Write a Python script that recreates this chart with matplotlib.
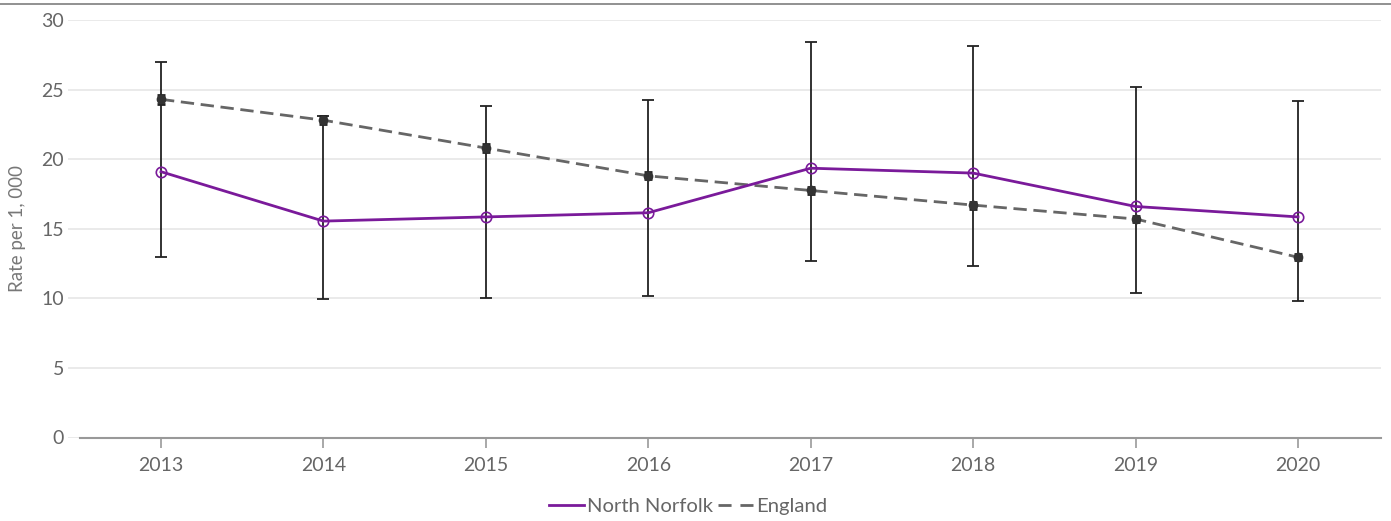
import matplotlib.pyplot as plt
from matplotlib.lines import Line2D

# data
years = [2013, 2014, 2015, 2016, 2017, 2018, 2019, 2020]
north_norfolk = [19.1, 15.55, 15.85, 16.15, 19.35, 19.0, 16.6, 15.85]
nn_lower = [13.0, 9.95, 10.0, 10.2, 12.65, 12.3, 10.4, 9.8]
nn_upper = [27.0, 23.1, 23.8, 24.25, 28.4, 28.1, 25.2, 24.2]
england = [24.3, 22.8, 20.8, 18.8, 17.75, 16.7, 15.7, 12.95]
eng_lower = [24.0, 22.5, 20.5, 18.55, 17.5, 16.45, 15.45, 12.75]
eng_upper = [24.6, 23.1, 21.1, 19.05, 18.0, 16.95, 15.95, 13.2]
y_ticks = [0, 5, 10, 15, 20, 25, 30]

plt.rcParams['font.family'] = ['Lato', 'DejaVu Sans']

fig = plt.figure(figsize=(13.91, 5.21), dpi=100)
ax = fig.add_axes([68 / 1391, 1 - 437.5 / 521, (1381 - 68) / 1391, 417.5 / 521])

purple = '#7a1a9a'
grey_txt = '#666666'

# north norfolk confidence intervals
nn_err = [[v - lo for v, lo in zip(north_norfolk, nn_lower)],
          [hi - v for v, hi in zip(north_norfolk, nn_upper)]]
ax.errorbar(years, north_norfolk, yerr=nn_err, fmt='none', ecolor='#222222',
            elinewidth=1.3, capsize=4, capthick=1.3, zorder=3)

eng_err = [[v - lo for v, lo in zip(england, eng_lower)],
           [hi - v for v, hi in zip(england, eng_upper)]]
ax.errorbar(years, england, yerr=eng_err, fmt='none', ecolor='#222222',
            elinewidth=2, capsize=3, capthick=2, zorder=4)

ax.plot(years, england, color='#666666', lw=2, dashes=(4.8, 2.4), zorder=4,
        marker='o', ms=6, mfc='#333333', mec='#333333', label='England')
ax.plot(years, north_norfolk, color=purple, lw=2, zorder=5,
        marker='o', ms=7.5, mfc='none', mec=purple, mew=1.2, label='North Norfolk')

ax.set_xlim(2012.4275, 2020.511)
ax.set_ylim(0, 30)
ax.set_xticks(years)
ax.set_xticklabels([str(y) for y in years])
ax.set_yticks(y_ticks)

ax.grid(axis='y', color='#e6e6e6', lw=1.2)
ax.set_axisbelow(True)
for s in ['top', 'right', 'left']:
    ax.spines[s].set_visible(False)
ax.spines['bottom'].set_color('#999999')
ax.spines['bottom'].set_linewidth(1.5)
ax.spines['bottom'].set_bounds(2012.501, 2020.511)

ax.tick_params(axis='x', length=7, width=1.2, color='#999999', labelsize=14,
               labelcolor=grey_txt, pad=7)
ax.tick_params(axis='y', length=0, labelsize=14, labelcolor=grey_txt, pad=3)
ax.set_ylabel('Rate per 1, 000', fontsize=13.5, color='#777777')
ax.yaxis.set_label_coords(-0.032, 0.5)

handles = [Line2D([0], [0], color=purple, lw=2),
           Line2D([0], [0], color='#666666', lw=2, dashes=(4.7, 3.2))]
fig.legend(handles, ['North Norfolk', 'England'], loc='center',
           bbox_to_anchor=(688 / 1391, 1 - 506 / 521), ncol=2, frameon=False,
           fontsize=14.6, handlelength=1.72, handletextpad=0.15, columnspacing=0.25,
           labelcolor=grey_txt)

# thin border along the top
fig.add_artist(Line2D([0, 1], [1 - 3.5 / 521, 1 - 3.5 / 521], color='#888888', lw=1.3,
                      transform=fig.transFigure))

fig.savefig('out.png', dpi=100)
